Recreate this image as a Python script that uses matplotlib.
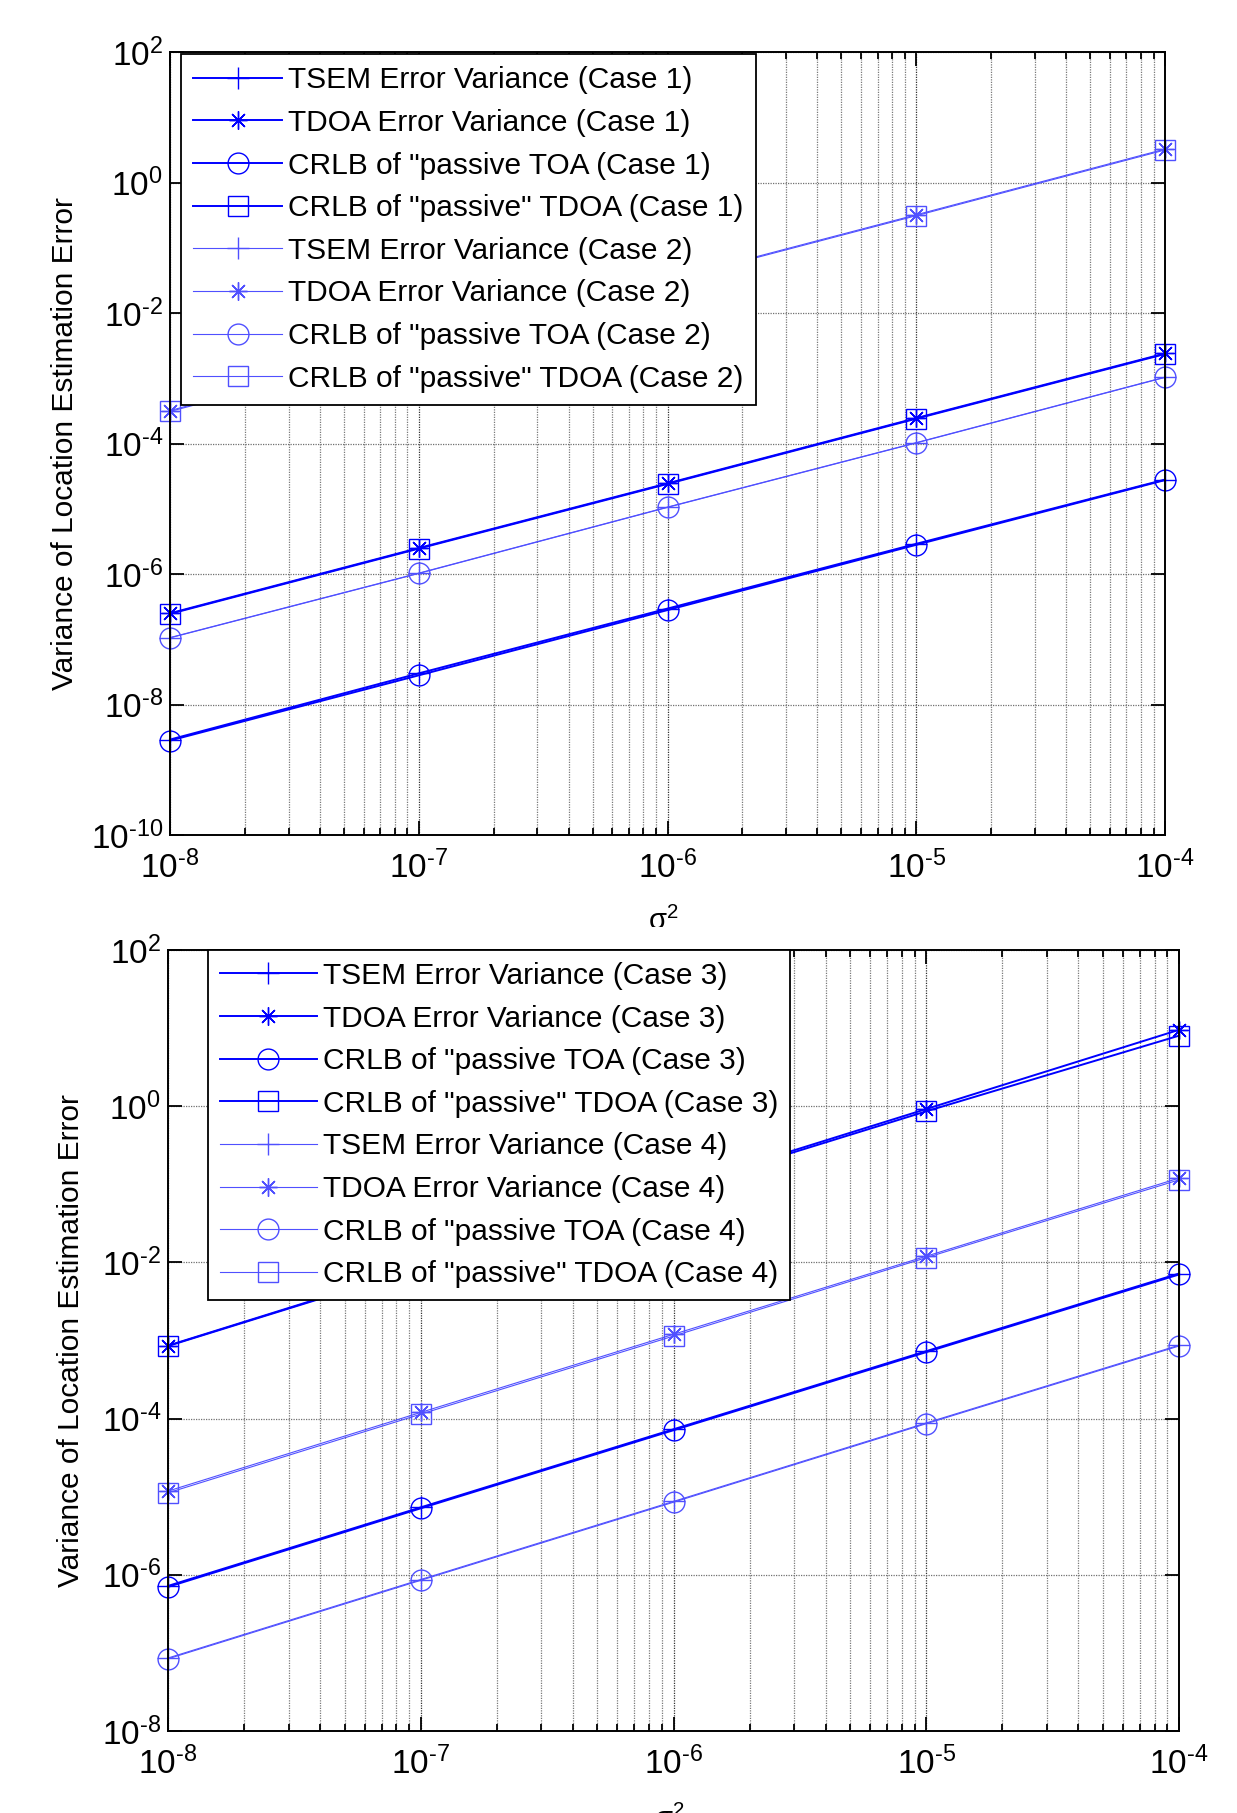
import numpy as np
import matplotlib
matplotlib.use('Agg')
import matplotlib.pyplot as plt
from matplotlib.ticker import FixedLocator, LogLocator, NullFormatter, FuncFormatter
from matplotlib.transforms import Bbox, TransformedBbox

plt.rcParams['font.family'] = ['Liberation Sans', 'DejaVu Sans']
plt.rcParams['mathtext.fontset'] = 'custom'
plt.rcParams['mathtext.rm'] = 'Liberation Sans'
plt.rcParams['mathtext.it'] = 'Liberation Sans:italic'
plt.rcParams['mathtext.sf'] = 'Liberation Sans'

sigma2 = [1e-8, 1e-7, 1e-6, 1e-5, 1e-4]

# top panel: case 1 and case 2
tsem_c1 = [2.9e-9, 3.0e-8, 2.95e-7, 2.9e-6, 2.8e-5]
tdoa_c1 = [2.5e-7, 2.5e-6, 2.45e-5, 2.45e-4, 2.4e-3]
crlb_toa_c1 = [2.8e-9, 2.8e-8, 2.8e-7, 2.8e-6, 2.75e-5]
crlb_tdoa_c1 = [2.45e-7, 2.45e-6, 2.4e-5, 2.4e-4, 2.35e-3]
tsem_c2 = [1.06e-7, 1.03e-6, 1.06e-5, 1.03e-4, 1.04e-3]
tdoa_c2 = [3.2e-4, 3.2e-3, 3.2e-2, 0.32, 3.25]
crlb_toa_c2 = [1.05e-7, 1.02e-6, 1.05e-5, 1.02e-4, 1.03e-3]
crlb_tdoa_c2 = [3.1e-4, 3.1e-3, 3.1e-2, 0.31, 3.15]

# bottom panel: case 3 and case 4
tsem_c3 = [7.2e-7, 7.3e-6, 7.3e-5, 7.3e-4, 7.2e-3]
tdoa_c3 = [8.6e-4, 8.8e-3, 9.0e-2, 0.92, 9.5]
crlb_toa_c3 = [7.0e-7, 7.1e-6, 7.1e-5, 7.1e-4, 7.0e-3]
crlb_tdoa_c3 = [8.5e-4, 8.6e-3, 8.6e-2, 0.86, 8.0]
tsem_c4 = [8.6e-8, 8.7e-7, 8.7e-6, 8.8e-5, 8.7e-4]
tdoa_c4 = [1.18e-5, 1.2e-4, 1.2e-3, 1.2e-2, 1.2e-1]
crlb_toa_c4 = [8.4e-8, 8.5e-7, 8.5e-6, 8.6e-5, 8.5e-4]
crlb_tdoa_c4 = [1.12e-5, 1.14e-4, 1.14e-3, 1.15e-2, 1.14e-1]

top_yticks = [1e-10, 1e-8, 1e-6, 1e-4, 1e-2, 1e0, 1e2]
bottom_yticks = [1e-8, 1e-6, 1e-4, 1e-2, 1e0, 1e2]

names = ['TSEM Error Variance', 'TDOA Error Variance',
         'CRLB of "passive TOA', 'CRLB of "passive" TDOA']
markers = ['+', (8, 2, 0), 'o', 's']
msizes = [16, 13, 15, 14]

W, H = 1237, 1813
fig = plt.figure(figsize=(W / 100, H / 100), dpi=100)

dark = dict(color='#0000ff', lw=1.4)
light = dict(color='#5050ff', lw=0.8)


def pow10(v, pos):
    e = int(round(np.log10(v)))
    s = str(e).replace('-', r'\text{-}')
    return r'$10^{%s}$' % s


def style_axes(ax, yticks):
    ax.set_xscale('log')
    ax.set_yscale('log')
    ax.set_xlim(sigma2[0], sigma2[-1])
    ax.set_ylim(yticks[0], yticks[-1])
    ax.xaxis.set_major_locator(FixedLocator(sigma2))
    ax.xaxis.set_minor_locator(LogLocator(base=10, subs=range(2, 10)))
    ax.xaxis.set_minor_formatter(NullFormatter())
    ax.yaxis.set_major_locator(FixedLocator(yticks))
    ax.yaxis.set_minor_locator(FixedLocator([]))
    ax.xaxis.set_major_formatter(FuncFormatter(pow10))
    ax.yaxis.set_major_formatter(FuncFormatter(pow10))
    ax.grid(True, which='major', axis='x', ls=(0, (1, 1)), color='#333333', lw=0.9)
    ax.grid(True, which='minor', axis='x', ls=(0, (1, 1)), color='#7a7a7a', lw=0.9)
    ax.grid(True, which='major', axis='y', ls=(0, (1, 1)), color='#707070', lw=0.9)
    ax.set_axisbelow(True)
    ax.tick_params(which='both', direction='in', top=True, right=True,
                   colors='black', width=1.3)
    ax.tick_params(which='major', length=10, labelsize=24)
    ax.tick_params(which='minor', length=5)
    ax.tick_params(axis='x', which='major', pad=11)
    ax.tick_params(axis='y', which='major', pad=5)
    for s in ax.spines.values():
        s.set_linewidth(1.4)
        s.set_color('black')


def draw_case(ax, series, case, kw):
    for vals, name, m, ms in zip(series, names, markers, msizes):
        ax.plot(sigma2, vals, marker=m, ms=ms, mfc='none', mec=kw['color'],
                mew=1.0, label=f'{name} (Case {case})', clip_on=False, **kw)


def add_legend(ax, anchor, hl):
    leg = ax.legend(loc='upper left', bbox_to_anchor=anchor, borderaxespad=0,
                    fontsize=21.5, fancybox=False, edgecolor='black', framealpha=1,
                    handlelength=hl, handletextpad=0.2, borderpad=0.4,
                    labelspacing=0.49, numpoints=1)
    leg.get_frame().set_linewidth(1.3)
    leg.set_zorder(10)


# top axes
ax1 = fig.add_axes([170 / W, 1 - 835 / H, 995 / W, 783 / H])
style_axes(ax1, top_yticks)
draw_case(ax1, [tsem_c1, tdoa_c1, crlb_toa_c1, crlb_tdoa_c1], 1, dark)
draw_case(ax1, [tsem_c2, tdoa_c2, crlb_toa_c2, crlb_tdoa_c2], 2, light)
add_legend(ax1, (0.011, 0.997), 3.0)
ax1.set_ylabel('Variance of Location Estimation Error', fontsize=21.5)
ax1.yaxis.set_label_coords(-0.0915, 0.5)

# bottom axes
ax2 = fig.add_axes([168 / W, 1 - 1731 / H, 1011 / W, 781 / H])
style_axes(ax2, bottom_yticks)
draw_case(ax2, [tsem_c3, tdoa_c3, crlb_toa_c3, crlb_tdoa_c3], 3, dark)
draw_case(ax2, [tsem_c4, tdoa_c4, crlb_toa_c4, crlb_tdoa_c4], 4, light)
add_legend(ax2, (0.0395, 1.0), 3.25)
ax2.set_ylabel('Variance of Location Estimation Error', fontsize=21.5)
ax2.yaxis.set_label_coords(-0.082, 0.5)

# x labels (both partly cut off in the original)
t1 = fig.text(663 / W, 1 - 930 / H, 'σ$^{2}$', ha='center', va='baseline', fontsize=21)
t1.set_clip_box(TransformedBbox(Bbox([[0, 1 - 927 / H], [1, 1]]), fig.transFigure))
t1.set_clip_on(True)
fig.text(669 / W, 1 - 1828 / H, 'σ$^{2}$', ha='center', va='baseline', fontsize=21)

fig.savefig('out.png', dpi=100)
